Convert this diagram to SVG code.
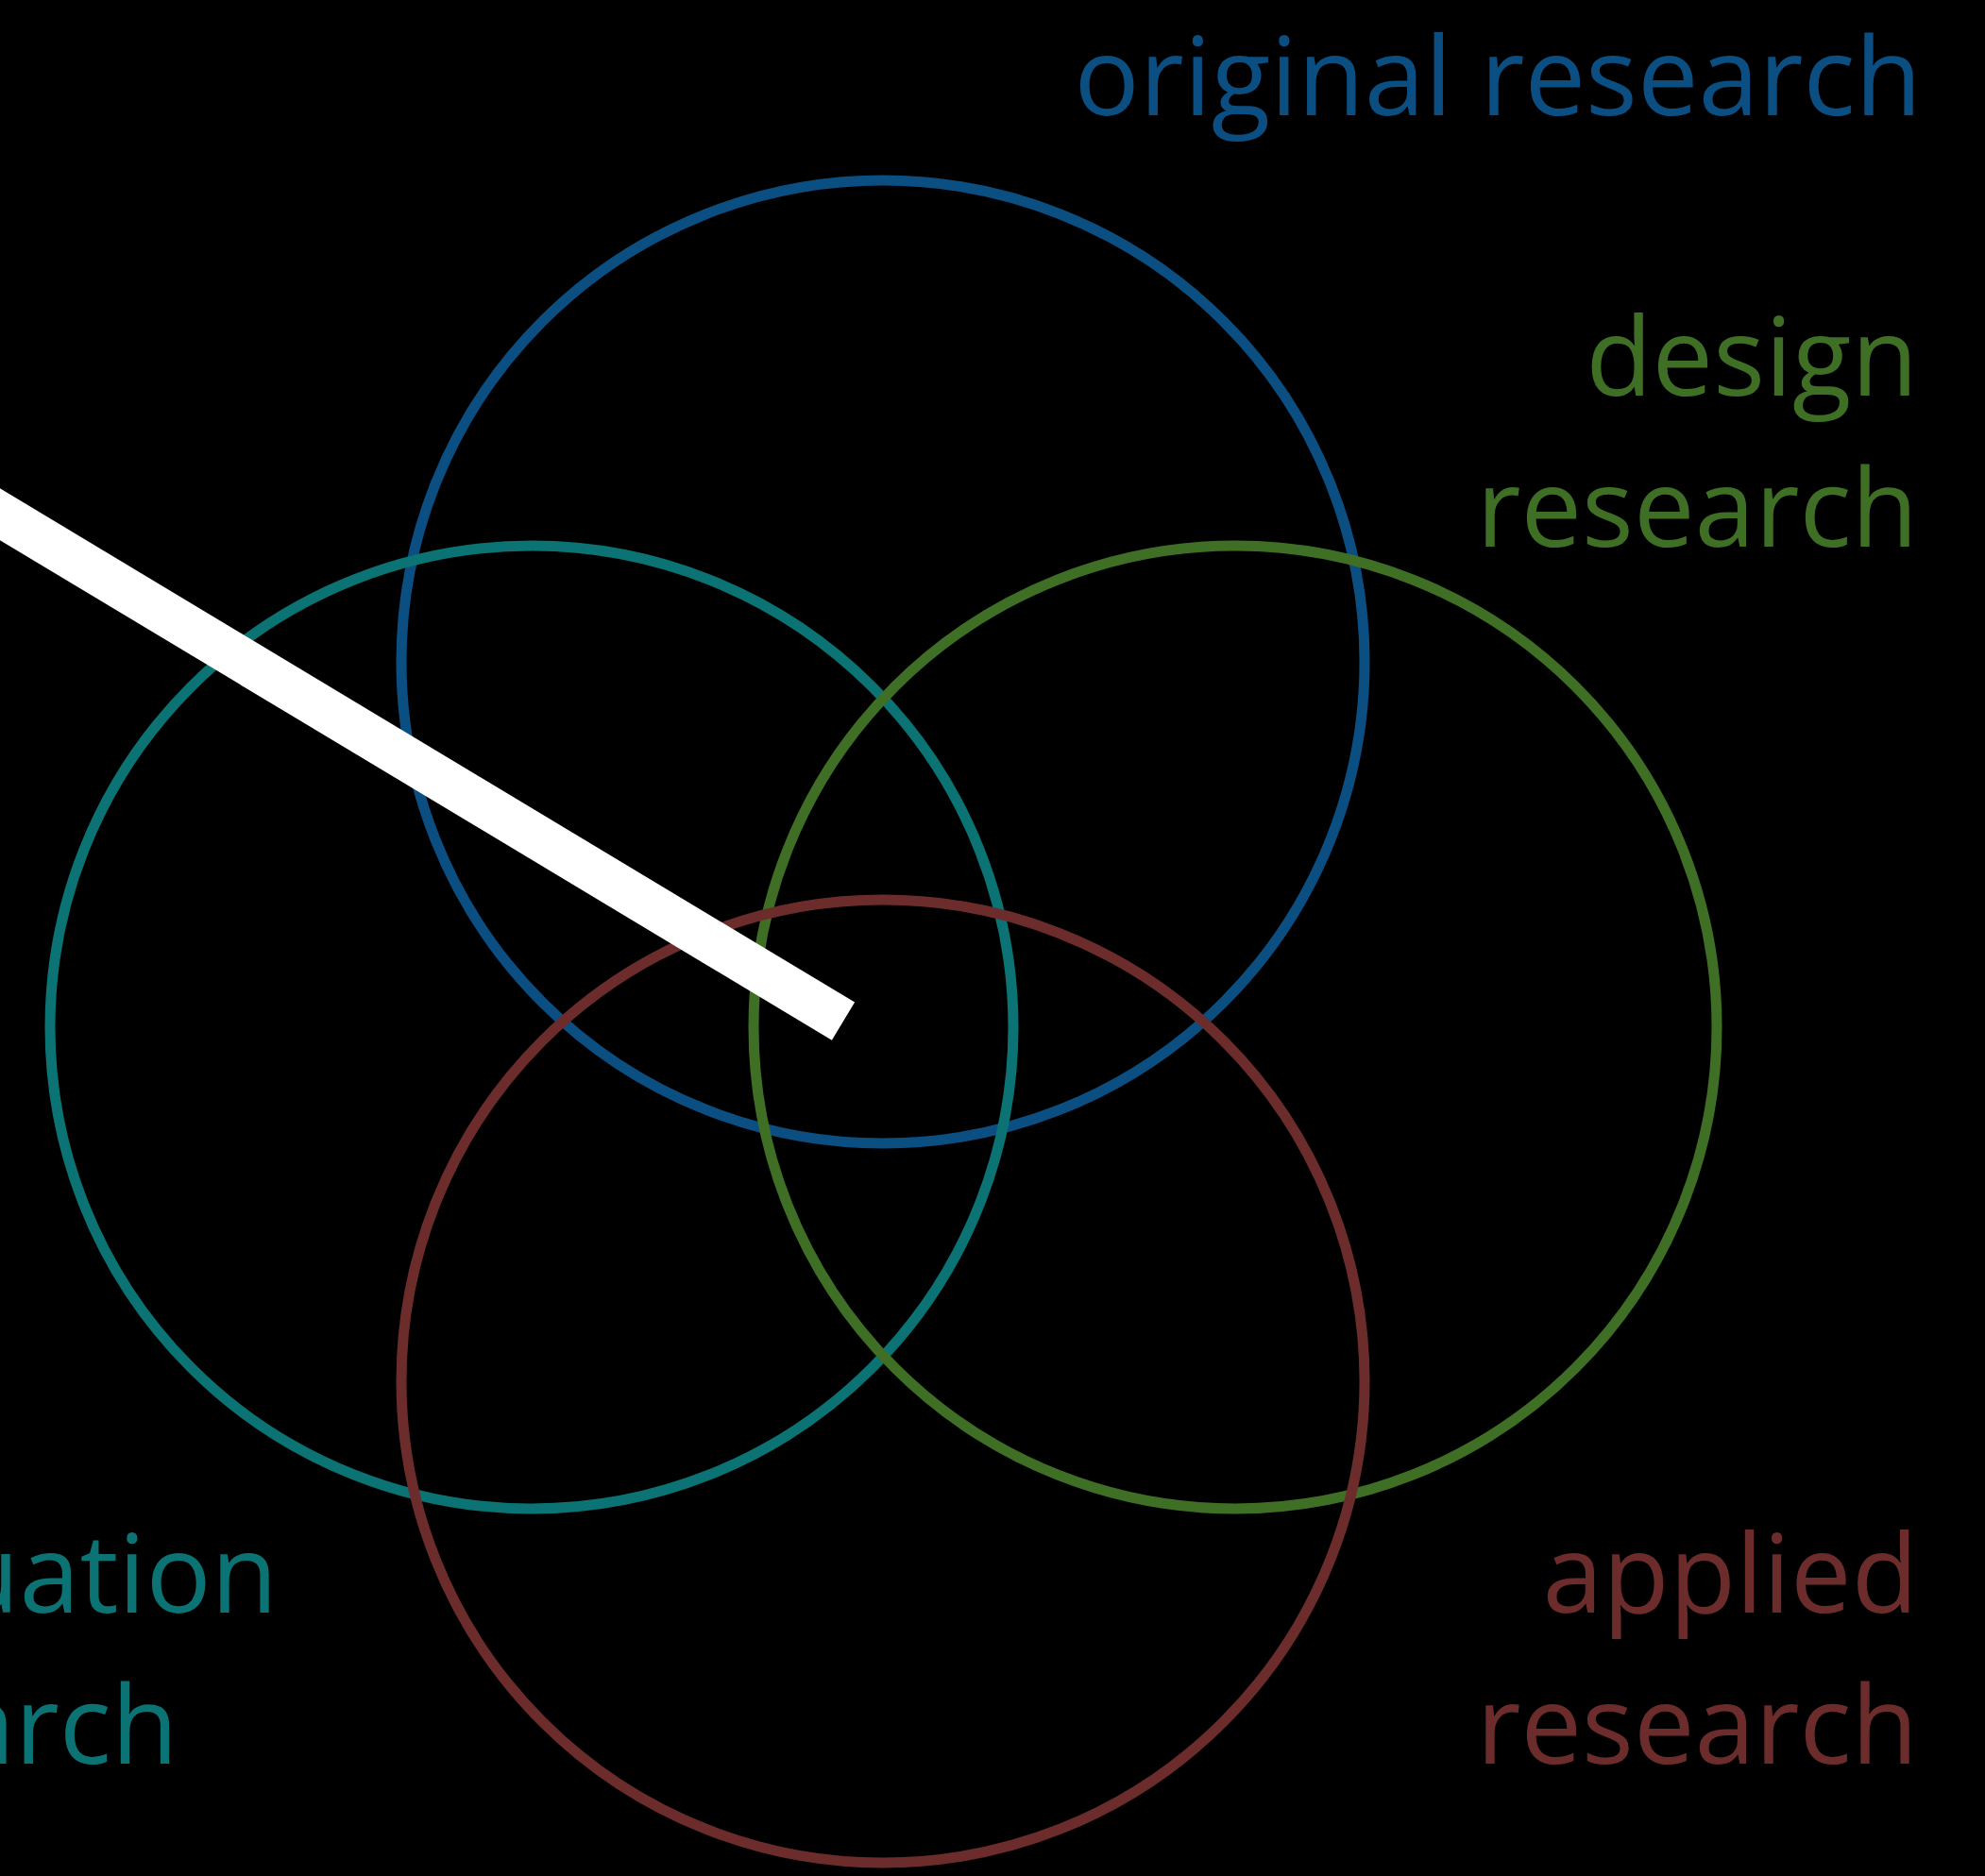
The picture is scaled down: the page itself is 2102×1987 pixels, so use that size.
<svg xmlns="http://www.w3.org/2000/svg" width="2102" height="1987" viewBox="0 0 2102 1987">
<style>
.c{fill:none;stroke-width:11}
.t{font-family:"Open Sans","Noto Sans",sans-serif;font-size:115px}
</style>
<rect width="2102" height="1987" fill="#000"/>
<g id="original-research">
<circle class="c" cx="935" cy="701" r="510" stroke="#0B4F82"/>
<text class="t" x="2035" y="122" text-anchor="end" fill="#0B4F82">original research</text>
</g>
<g id="evaluation-research">
<circle class="c" cx="563" cy="1088" r="510" stroke="#0B7373"/>
<text class="t" y="1708" fill="#0B7373"><tspan x="-265">evaluation</tspan><tspan x="-279" y="1868">research</tspan></text>
</g>
<g id="design-research">
<circle class="c" cx="1308" cy="1088" r="510" stroke="#3F6F24"/>
<text class="t" y="419" text-anchor="end" fill="#3F6F24"><tspan x="2031">design</tspan><tspan x="2031" y="579">research</tspan></text>
</g>
<g id="applied-research">
<circle class="c" cx="935" cy="1463" r="510" stroke="#6C2C2C"/>
<text class="t" y="1708" text-anchor="end" fill="#6C2C2C"><tspan x="2031">applied</tspan><tspan x="2031" y="1868">research</tspan></text>
</g>
<g id="connectors">
<line x1="-20" y1="532.7" x2="893" y2="1081.7" stroke="#fff" stroke-width="47"/>
</g>
</svg>
